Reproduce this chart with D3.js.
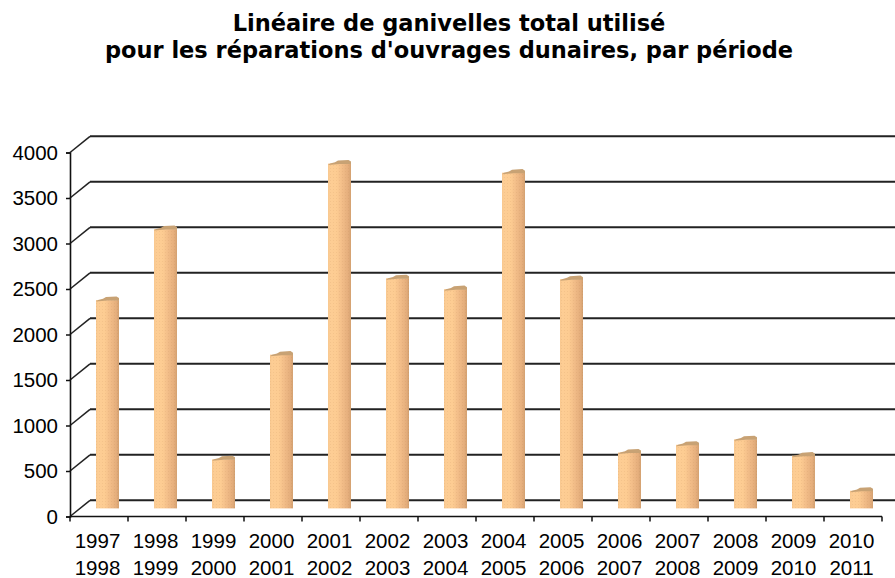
<!DOCTYPE html>
<html>
<head>
<meta charset="utf-8">
<script src="https://cdn.jsdelivr.net/npm/d3@7"></script>
<style>
body { margin: 0; background: #fff; }
svg { display: block; }
</style>
</head>
<body>
<div id="chart"></div>
<script>
var W = 895, H = 578;

// data
var titleLines = ["Linéaire de ganivelles total utilisé", "pour les réparations d'ouvrages dunaires, par période"];
var startYears = ["1997", "1998", "1999", "2000", "2001", "2002", "2003", "2004", "2005", "2006", "2007", "2008", "2009", "2010"];
var endYears = ["1998", "1999", "2000", "2001", "2002", "2003", "2004", "2005", "2006", "2007", "2008", "2009", "2010", "2011"];
var values = [2300, 3080, 550, 1700, 3800, 2540, 2420, 3700, 2530, 625, 710, 770, 590, 205];
var yTicks = [0, 500, 1000, 1500, 2000, 2500, 3000, 3500, 4000];

var periods = startYears.map((d, i) => d + "-" + endYears[i]);
var data = periods.map((p, i) => ({period: p, start: startYears[i], end: endYears[i], value: values[i]}));

// 3d depth offset of the back wall
var depthX = 20, depthY = -16.2;
var barW = 23;

var x = d3.scaleBand().domain(periods).range([70, 882]).padding(0);
var y = d3.scaleLinear().domain([0, 4000]).range([516.5, 152.5]);

var svg = d3.select("#chart").append("svg")
	.attr("width", W)
	.attr("height", H);

var defs = svg.append("defs");
var grad = defs.append("linearGradient")
	.attr("id", "barGrad")
	.attr("x1", "0%").attr("x2", "100%")
	.attr("y1", "0%").attr("y2", "0%");
[[0, "#F8C890"], [0.1, "#FDCD94"], [0.38, "#FDCC92"], [0.6, "#F3BE89"], [0.88, "#E5AE7C"], [1, "#D3A171"]]
	.forEach(s => grad.append("stop").attr("offset", s[0]).attr("stop-color", s[1]));

var dots = defs.append("pattern")
	.attr("id", "dots")
	.attr("width", 3).attr("height", 3)
	.attr("patternUnits", "userSpaceOnUse");
dots.append("rect").attr("width", 1).attr("height", 1).attr("fill", "rgba(170,110,60,0.1)");

// title
svg.append("g").selectAll("text")
	.data(titleLines)
	.enter()
	.append("text")
	.attr("x", 449)
	.attr("y", (d, i) => 30.5 + i * 27)
	.attr("text-anchor", "middle")
	.style("font-family", "'DejaVu Sans', Verdana, sans-serif")
	.style("font-weight", "bold")
	.style("font-size", "22.5px")
	.attr("fill", "#000")
	.text(d => d);

// back wall gridlines + diagonal connectors
var grid = svg.append("g");
grid.selectAll("line.gl")
	.data(yTicks)
	.enter()
	.append("line")
	.attr("class", "gl")
	.attr("x1", x.range()[0] + depthX)
	.attr("x2", W + 20)
	.attr("y1", d => y(d) + depthY)
	.attr("y2", d => y(d) + depthY)
	.attr("stroke", "#222")
	.attr("stroke-width", 2);
grid.selectAll("line.dg")
	.data(yTicks)
	.enter()
	.append("line")
	.attr("class", "dg")
	.attr("x1", x.range()[0])
	.attr("x2", x.range()[0] + depthX)
	.attr("y1", d => y(d))
	.attr("y2", d => y(d) + depthY)
	.attr("stroke", "#222")
	.attr("stroke-width", 1.5);

// bars (placed at mid depth)
var bars = svg.append("g").selectAll("g")
	.data(data)
	.enter()
	.append("g");

function barX(d) { return x(d.period) + x.bandwidth() / 2 + depthX / 2 - barW / 2 - 1.5; }
function barTop(d) { return y(d.value) + depthY / 2; }
var barBottom = y(0) + depthY / 2;

bars.append("rect")
	.attr("x", d => barX(d))
	.attr("y", d => barTop(d) + 1)
	.attr("width", barW)
	.attr("height", d => barBottom - barTop(d) - 1)
	.attr("fill", "url(#barGrad)");
bars.append("rect")
	.attr("x", d => barX(d))
	.attr("y", d => barTop(d) + 1)
	.attr("width", barW)
	.attr("height", d => barBottom - barTop(d) - 1)
	.attr("fill", "url(#dots)");
bars.append("path")
	.attr("d", d => {
		var x0 = barX(d), t = barTop(d);
		return "M" + x0 + "," + (t + 2.5)
			+ "L" + (x0 + 2) + "," + (t + 1)
			+ "L" + (x0 + 7) + "," + (t - 0.3)
			+ "L" + (x0 + 10) + "," + (t - 2)
			+ "L" + (x0 + 20.5) + "," + (t - 2.6)
			+ "L" + (x0 + barW) + "," + (t - 1)
			+ "L" + (x0 + barW) + "," + (t + 1.5)
			+ "L" + (x0 + 12) + "," + (t + 1.5)
			+ "Z";
	})
	.attr("fill", "#C8A274");

// front value axis
var yAxis = svg.append("g")
	.attr("transform", "translate(" + x.range()[0] + ",0)")
	.call(d3.axisLeft(y).tickValues(yTicks).tickSize(4).tickPadding(8).tickFormat(d3.format("d")));
yAxis.select(".domain").attr("stroke", "#111").attr("stroke-width", 1.6);
yAxis.selectAll(".tick line").attr("stroke", "#111").attr("stroke-width", 1.5);
yAxis.selectAll(".tick text")
	.style("font-family", "'Liberation Sans', Arial, sans-serif")
	.style("font-size", "20.5px")
	.attr("fill", "#000");

// category axis: ticks on period boundaries
var xAxis = svg.append("g");
xAxis.append("line")
	.attr("x1", x.range()[0])
	.attr("x2", x.range()[1])
	.attr("y1", y(0))
	.attr("y2", y(0))
	.attr("stroke", "#111")
	.attr("stroke-width", 1.6);
var bounds = periods.map(p => x(p)).concat([x.range()[1]]);
xAxis.selectAll("line.tk")
	.data(bounds)
	.enter()
	.append("line")
	.attr("class", "tk")
	.attr("x1", d => d)
	.attr("x2", d => d)
	.attr("y1", y(0))
	.attr("y2", y(0) + 5)
	.attr("stroke", "#111")
	.attr("stroke-width", 1.5);
var lbl = xAxis.selectAll("text")
	.data(data)
	.enter()
	.append("text")
	.attr("text-anchor", "middle")
	.style("font-family", "'Liberation Sans', Arial, sans-serif")
	.style("font-size", "20.5px")
	.attr("fill", "#000");
lbl.append("tspan")
	.attr("x", d => x(d.period) + x.bandwidth() / 2 - 1.5)
	.attr("y", 548)
	.text(d => d.start);
lbl.append("tspan")
	.attr("x", d => x(d.period) + x.bandwidth() / 2 - 1.5)
	.attr("y", 575)
	.text(d => d.end);
</script>
</body>
</html>
